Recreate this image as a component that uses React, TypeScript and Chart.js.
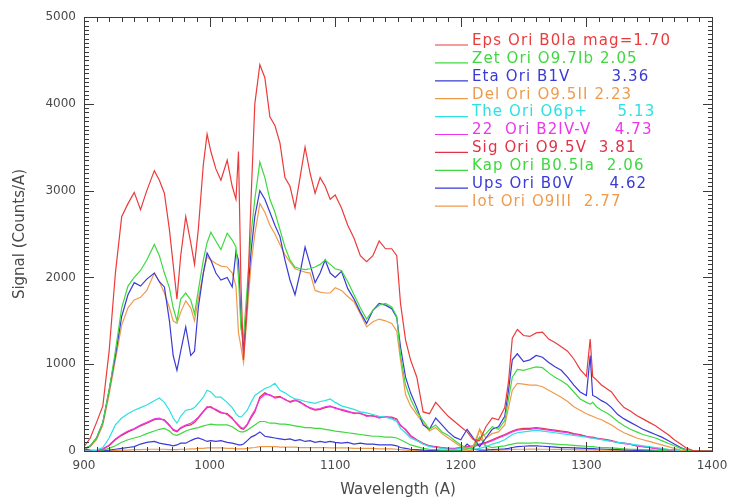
import React, { useEffect, useRef } from 'react';
import { Chart, registerables } from 'chart.js';

Chart.register(...registerables);

// Wavelength grid (Angstrom)
const wavelengths = [
  900, 905, 910, 915, 920, 925, 930, 935, 940, 945,
  950, 956, 960, 964, 968, 971, 974, 977, 981, 985,
  988, 991, 995, 998, 1001, 1005, 1009, 1014, 1018, 1021,
  1023, 1025, 1027, 1030, 1033, 1036, 1040, 1044, 1048, 1052,
  1056, 1060, 1064, 1068, 1072, 1076, 1080, 1084, 1088, 1092,
  1096, 1100, 1105, 1110, 1115, 1120, 1125, 1130, 1135, 1140,
  1145, 1149, 1152, 1156, 1160, 1165, 1170, 1175, 1180, 1185,
  1190, 1195, 1200, 1205, 1210, 1215, 1220, 1225, 1230, 1235,
  1238, 1241, 1245, 1250, 1255, 1260, 1265, 1270, 1275, 1280,
  1285, 1290, 1295, 1300, 1303, 1305, 1308, 1312, 1316, 1320,
  1325, 1330, 1335, 1340, 1345, 1350, 1355, 1360, 1365, 1370,
  1375, 1380, 1385, 1390, 1395, 1400,
];

const epsOri = [
  50, 150, 330, 520, 1150, 2050, 2700, 2850, 2980, 2780,
  3000, 3230, 3120, 2970, 2550, 2150, 1750, 2250, 2700, 2400,
  2150, 2550, 3300, 3650, 3450, 3250, 3120, 3350, 3050, 2900,
  3450, 1900, 1050, 1700, 2900, 4000, 4450, 4300, 3850, 3750,
  3550, 3150, 3050, 2800, 3150, 3500, 3200, 2970, 3150, 3050,
  2900, 2950, 2800, 2600, 2450, 2250, 2180, 2250, 2420, 2330,
  2330, 2250, 1700, 1280, 1050, 850, 450, 430, 560, 480,
  400, 340, 280, 220, 130, 120, 280, 380, 360, 500,
  800, 1300, 1400, 1330, 1320, 1360, 1370, 1290, 1250, 1200,
  1150, 1060, 940, 860, 1290, 860, 820, 760, 720, 680,
  580, 500, 460, 410, 370, 330, 290, 240, 190, 130,
  80, 30, 5, 0, 0, 0,
];

const zetOri = [
  20, 60, 150, 330, 700, 1150, 1650, 1900, 2000, 2080,
  2200, 2380, 2250, 2050, 1880, 1650, 1500, 1750, 1820, 1740,
  1580, 1850, 2200, 2400, 2520, 2420, 2320, 2510, 2430, 2350,
  2000, 1400, 1300, 1900, 2500, 2900, 3330, 3150, 2900, 2750,
  2550, 2350, 2200, 2120, 2100, 2090, 2100, 2120, 2150, 2200,
  2150, 2100, 2080, 1950, 1800, 1650, 1520, 1620, 1680, 1700,
  1660, 1550, 1100, 760, 600, 450, 350, 250, 300, 220,
  180, 120, 70, 30, 20, 150, 200, 280, 250, 350,
  600, 850, 940, 930, 950, 970, 960, 900, 850, 810,
  760, 680, 600, 560, 540, 560, 510, 470, 440, 400,
  340, 290, 250, 220, 190, 170, 150, 120, 90, 60,
  30, 10, 0, 0, 0, 0,
];

const etaOri = [
  20, 60, 150, 330, 700, 1100, 1550, 1800, 1940, 1900,
  1980, 2050, 1950, 1890, 1500, 1100, 930, 1150, 1430, 1100,
  1150, 1650, 2050, 2280, 2200, 2050, 1970, 2000, 1890, 2300,
  2200, 1500, 1150, 1750, 2300, 2700, 3000, 2900, 2750, 2600,
  2470, 2200, 1970, 1800, 2050, 2350, 2150, 1940, 2050, 2200,
  2050, 2000, 2070, 1870, 1750, 1600, 1470, 1620, 1700, 1680,
  1640, 1540, 1200, 850, 670, 500, 300, 250, 380, 300,
  220, 160, 130, 250, 150, 50, 150, 250, 280, 400,
  700, 1050, 1120, 1030, 1050, 1100, 1080, 1020, 970, 930,
  850, 760, 680, 640, 1100, 640, 620, 580, 550, 500,
  420, 370, 330, 290, 250, 220, 190, 160, 120, 80,
  40, 10, 0, 0, 0, 0,
];

const delOri = [
  20, 50, 130, 300, 650, 1050, 1450, 1650, 1740, 1770,
  1850, 2050, 1950, 1820, 1650, 1500, 1470, 1600, 1730, 1650,
  1500, 1750, 2050, 2240, 2200, 2160, 2130, 2120, 2050, 1900,
  1360, 1200, 1020, 1600, 2150, 2500, 2850, 2750, 2600, 2500,
  2380, 2260, 2180, 2100, 2080, 2060, 2050, 1850, 1830, 1820,
  1820, 1880, 1850, 1780, 1720, 1580, 1430, 1490, 1520, 1500,
  1470, 1380, 1050, 650, 520, 420, 320, 230, 270, 200,
  150, 100, 50, 20, 60, 250, 150, 200, 220, 300,
  500, 700, 780, 770, 760, 760, 740, 700, 660, 620,
  570, 510, 470, 430, 410, 400, 380, 360, 330, 300,
  250, 210, 180, 150, 130, 110, 90, 70, 50, 30,
  10, 0, 0, 0, 0, 0,
];

const theOri = [
  0, 0, 10, 40, 150, 300, 380, 430, 470, 500,
  530, 580, 610, 560, 470, 380, 320, 400, 470, 480,
  500, 550, 620, 700, 680, 620, 620, 560, 500, 430,
  400, 390, 420, 470, 560, 640, 680, 720, 740, 780,
  700, 670, 630, 600, 590, 570, 560, 550, 570, 580,
  600, 560, 520, 500, 480, 450, 440, 420, 400, 390,
  370, 340, 260, 210, 150, 120, 80, 50, 40, 30,
  20, 20, 30, 40, 20, 30, 50, 80, 100, 130,
  160, 190, 210, 220, 230, 240, 230, 220, 210, 200,
  190, 180, 170, 160, 150, 150, 140, 130, 120, 110,
  100, 90, 80, 70, 60, 50, 40, 30, 20, 10,
  5, 0, 0, 0, 0, 0,
];

const ori22 = [
  0, 0, 5, 25, 70, 140, 190, 230, 260, 300,
  330, 370, 380, 350, 290, 250, 230, 270, 300, 320,
  350, 390, 460, 510, 500, 480, 450, 420, 370, 330,
  300, 270, 260, 310, 400, 470, 600, 650, 650, 610,
  620, 600, 560, 580, 570, 520, 500, 480, 490, 510,
  520, 490, 480, 460, 430, 440, 400, 410, 380, 400,
  380, 360, 300, 240, 170, 120, 80, 60, 45, 35,
  30, 25, 35, 45, 50, 70, 90, 120, 150, 180,
  200, 220, 240, 250, 250, 260, 250, 240, 230, 220,
  210, 190, 180, 165, 155, 150, 145, 135, 125, 115,
  95, 85, 75, 60, 50, 40, 30, 20, 15, 10,
  5, 0, 0, 0, 0, 0,
];

const sigOri = [
  0, 0, 5, 20, 60, 130, 180, 220, 250, 290,
  320, 360, 370, 360, 300, 240, 220, 260, 290, 300,
  330, 380, 450, 500, 510, 470, 440, 430, 380, 320,
  290, 260, 250, 300, 380, 450, 620, 670, 640, 620,
  630, 590, 570, 590, 560, 530, 490, 470, 480, 500,
  510, 500, 470, 450, 440, 430, 410, 400, 390, 390,
  390, 370, 290, 250, 180, 130, 90, 60, 50, 40,
  30, 30, 40, 50, 60, 80, 100, 130, 160, 190,
  210, 230, 250, 260, 260, 270, 260, 250, 240, 230,
  220, 200, 190, 170, 160, 160, 150, 140, 130, 120,
  100, 90, 80, 60, 50, 40, 30, 20, 15, 10,
  5, 0, 0, 0, 0, 0,
];

const kapOri = [
  0, 0, 5, 10, 30, 60, 100, 130, 150, 170,
  200, 230, 250, 260, 230, 190, 180, 200, 230, 250,
  260, 270, 290, 300, 310, 300, 300, 300, 280, 250,
  230, 220, 220, 240, 270, 300, 340, 340, 320, 320,
  310, 310, 300, 290, 280, 270, 270, 260, 260, 250,
  240, 230, 220, 210, 200, 190, 180, 170, 170, 160,
  160, 150, 130, 100, 70, 50, 30, 20, 15, 10,
  10, 10, 10, 20, 60, 160, 60, 40, 50, 60,
  70, 80, 90, 90, 90, 95, 90, 85, 80, 75,
  70, 65, 60, 55, 50, 50, 45, 40, 38, 35,
  30, 25, 20, 18, 15, 12, 10, 8, 5, 3,
  0, 0, 0, 0, 0, 0,
];

const upsOri = [
  20, 10, 5, 5, 10, 20, 30, 40, 50, 80,
  100, 110, 90, 80, 70, 60, 70, 90, 90, 120,
  140, 150, 130, 110, 120, 110, 120, 100, 90, 80,
  70, 70, 80, 120, 160, 180, 220, 170, 160, 150,
  140, 130, 140, 120, 130, 110, 120, 100, 110, 100,
  110, 100, 90, 100, 80, 90, 80, 80, 70, 70,
  70, 60, 40, 30, 20, 15, 10, 8, 5, 5,
  5, 5, 5, 80, 20, 10, 10, 15, 20, 25,
  30, 40, 50, 55, 60, 60, 55, 50, 45, 40,
  38, 35, 32, 30, 28, 28, 25, 23, 20, 18,
  15, 12, 10, 8, 6, 5, 4, 3, 2, 1,
  0, 0, 0, 0, 0, 0,
];

const iotOri = [
  0, 0, 0, 0, 5, 5, 10, 10, 15, 15,
  20, 20, 20, 20, 15, 15, 15, 20, 20, 25,
  25, 30, 30, 35, 35, 35, 35, 30, 30, 25,
  25, 25, 25, 30, 35, 40, 50, 50, 50, 50,
  45, 45, 45, 45, 40, 40, 40, 40, 40, 40,
  35, 35, 35, 35, 30, 30, 30, 30, 25, 25,
  25, 20, 15, 10, 8, 5, 3, 2, 2, 2,
  2, 2, 2, 5, 10, 250, 30, 10, 10, 12,
  15, 18, 20, 20, 22, 22, 20, 20, 18, 18,
  16, 15, 14, 13, 12, 12, 11, 10, 9, 8,
  7, 6, 5, 4, 3, 2, 2, 1, 1, 0,
  0, 0, 0, 0, 0, 0,
];

const seriesLabels = [
  'Eps Ori B0Ia mag=1.70',
  'Zet Ori O9.7Ib 2.05',
  'Eta Ori B1V       3.36',
  'Del Ori O9.5II 2.23',
  'The Ori O6p+     5.13',
  '22  Ori B2IV-V    4.73',
  'Sig Ori O9.5V  3.81',
  'Kap Ori B0.5Ia  2.06',
  'Ups Ori B0V      4.62',
  'Iot Ori O9III  2.77',
];

const seriesValues = [epsOri, zetOri, etaOri, delOri, theOri, ori22, sigOri, kapOri, upsOri, iotOri];

const seriesColors = [
  '#ec3b3b', '#3fd83f', '#3a3ad6', '#f09a4c', '#2ee0e0',
  '#ee34ee', '#e0324a', '#3fd83f', '#3a3ad6', '#f09a4c',
];

const xTickValues = [900, 1000, 1100, 1200, 1300, 1400];
const yTickValues = [0, 1000, 2000, 3000, 4000, 5000];

function drawFrame(chart: any) {
  const ctx = chart.ctx;
  const a = chart.chartArea;
  const xs = chart.scales['x'];
  const ys = chart.scales['y'];
  const left = Math.round(a.left);
  const right = Math.round(a.right);
  const top = Math.round(a.top);
  const bottom = Math.round(a.bottom);
  ctx.save();
  ctx.fillStyle = '#3a3a3a';
  ctx.fillRect(left, top, right - left + 1, 1);
  ctx.fillRect(left, bottom, right - left + 1, 1);
  ctx.fillRect(left, top, 1, bottom - top + 1);
  ctx.fillRect(right, top, 1, bottom - top + 1);
  for (let v = xs.min; v <= xs.max; v += 10) {
    const px = Math.round(xs.getPixelForValue(v));
    const len = v % 100 === 0 ? 9 : 4;
    ctx.fillRect(px, bottom - len, 1, len);
    ctx.fillRect(px, top + 1, 1, len);
  }
  for (let v = ys.min; v <= ys.max; v += 50) {
    const py = Math.round(ys.getPixelForValue(v));
    const len = v % 1000 === 0 ? 9 : 4;
    ctx.fillRect(left + 1, py, len, 1);
    ctx.fillRect(right - len, py, len, 1);
  }
  ctx.restore();
}

function drawLegend(chart: any) {
  const ctx = chart.ctx;
  const a = chart.chartArea;
  ctx.save();
  ctx.font = '15px "DejaVu Sans", sans-serif';
  ctx.textBaseline = 'middle';
  ctx.textAlign = 'left';
  try { (ctx as any).letterSpacing = '1.1px'; } catch (e) { /* ignore */ }
  chart.data.datasets.forEach((ds: any, i: number) => {
    const yMid = a.top + 24 + i * 17.9;
    ctx.strokeStyle = ds.borderColor;
    ctx.lineWidth = 1.2;
    ctx.beginPath();
    ctx.moveTo(a.left + 351, yMid + 4);
    ctx.lineTo(a.left + 384, yMid + 4);
    ctx.stroke();
    ctx.fillStyle = ds.borderColor;
    ctx.fillText(ds.label, a.left + 388, yMid);
  });
  ctx.restore();
}

const framePlugin = {
  id: 'frameAndLegend',
  afterDraw(chart: any) {
    drawFrame(chart);
    drawLegend(chart);
  },
};

export default function App() {
  const canvasRef = useRef<HTMLCanvasElement | null>(null);

  useEffect(() => {
    if (!canvasRef.current) return;
    const datasets = seriesValues.map((vals, i) => ({
      label: seriesLabels[i],
      data: wavelengths.map((w, j) => ({ x: w, y: vals[j] })),
      borderColor: seriesColors[i],
      backgroundColor: seriesColors[i],
      borderWidth: 1.2,
      pointRadius: 0,
      tension: 0,
      fill: false,
    }));
    const tickFont = { family: '"DejaVu Sans", sans-serif', size: 12 };
    const titleFont = { family: '"DejaVu Sans", sans-serif', size: 15 };
    const chart = new Chart(canvasRef.current, {
      type: 'line',
      data: { datasets },
      options: {
        animation: false,
        responsive: false,
        maintainAspectRatio: false,
        layout: { padding: { top: 17, right: 17, left: 0, bottom: 0 } },
        plugins: {
          legend: { display: false },
          tooltip: { enabled: false },
        },
        scales: {
          x: {
            type: 'linear',
            min: 900,
            max: 1400,
            afterFit: (s: any) => {
              s.height = 52;
              s.paddingLeft = 0;
              s.paddingRight = 0;
            },
            afterBuildTicks: (s: any) => { s.ticks = xTickValues.map((v) => ({ value: v })); },
            grid: { display: false, drawTicks: false },
            border: { display: false },
            ticks: {
              color: '#4a4a4a',
              font: tickFont,
              padding: 8,
              maxRotation: 0,
              callback: (v: any) => String(v),
            },
            title: {
              display: true,
              text: 'Wavelength (A)',
              color: '#4a4a4a',
              font: titleFont,
              padding: { top: 0, bottom: 4 },
            },
          },
          y: {
            type: 'linear',
            min: 0,
            max: 5000,
            afterFit: (s: any) => {
              s.width = 84;
              s.paddingTop = 0;
              s.paddingBottom = 0;
            },
            afterBuildTicks: (s: any) => { s.ticks = yTickValues.map((v) => ({ value: v })); },
            grid: { display: false, drawTicks: false },
            border: { display: false },
            ticks: {
              color: '#4a4a4a',
              font: tickFont,
              padding: 8,
              callback: (v: any) => String(v),
            },
            title: {
              display: true,
              text: 'Signal (Counts/A)',
              color: '#4a4a4a',
              font: titleFont,
              padding: { top: 11, bottom: 0 },
            },
          },
        },
      },
      plugins: [framePlugin],
    } as any);
    return () => chart.destroy();
  }, []);

  return (
    <div style={{ position: 'fixed', left: 0, top: 0, width: 729, height: 503, background: '#fff' }}>
      <canvas ref={canvasRef} width={729} height={503} style={{ display: 'block', width: 729, height: 503 }} />
    </div>
  );
}
